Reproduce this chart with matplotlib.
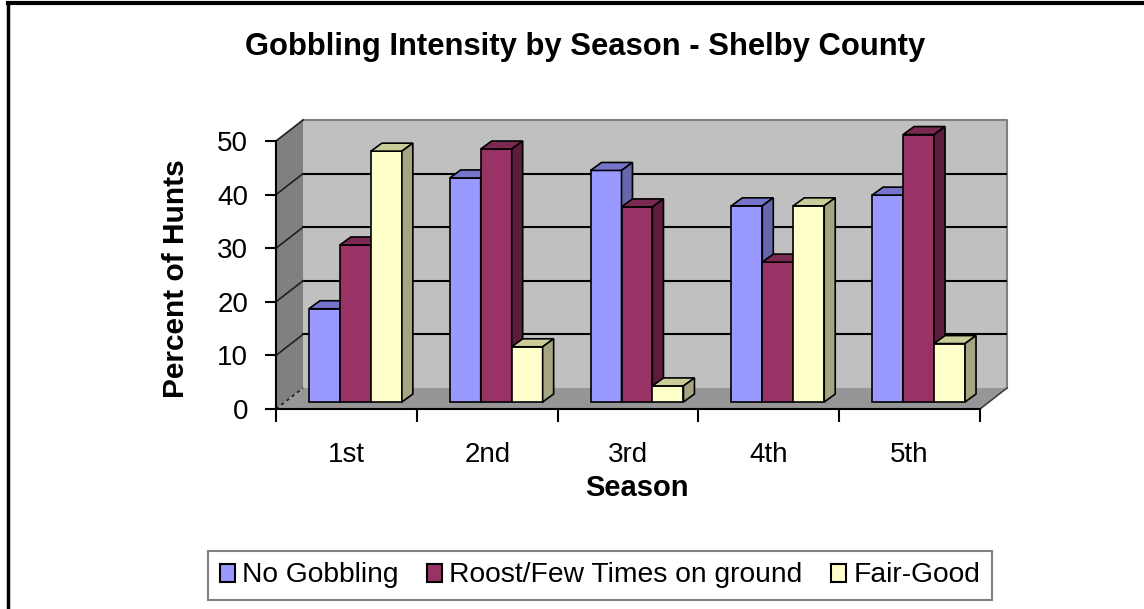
import numpy as np
import matplotlib
matplotlib.use("Agg")
import matplotlib.pyplot as plt
from matplotlib.patches import Polygon, Patch
from matplotlib.lines import Line2D

plt.rcParams['font.family'] = ['Liberation Sans', 'DejaVu Sans']

seasons = ["1st", "2nd", "3rd", "4th", "5th"]
series_names = ["No Gobbling", "Roost/Few Times on ground", "Fair-Good"]
no_gobbling = [17.4, 41.8, 43.2, 36.6, 38.6]
roost_few = [29.3, 47.2, 36.4, 26.1, 49.9]
fair_good = [46.8, 10.3, 3.0, 36.6, 10.9]
y_ticks = [0, 10, 20, 30, 40, 50]

front_col = ["#9999FF", "#993366", "#FFFFCC"]
top_col = ["#7575CC", "#7A2952", "#CCCC99"]
side_col = ["#6666AA", "#5E1C3D", "#A5A583"]

W, H = 1144, 609
DX, DY = 0.192, 3.92      # depth of the walls, in data units
BW = 0.22                 # bar width
BDX, BDY = 0.078, 1.49    # depth of a bar
OX, OY = DX / 3, DY / 3   # bars sit a third of the way back

fig = plt.figure(figsize=(W / 100, H / 100), dpi=100)
ax = fig.add_axes([276 / W, 1 - 409 / H, 731 / W, 289 / H])
ax.set_xlim(0, 5 + DX)
ax.set_ylim(0, 50 + DY)
ax.patch.set_visible(False)

# walls and floor
ax.add_patch(Polygon([(0, 0), (DX, DY), (DX, 50 + DY), (0, 50)], fc="#808080", ec="none", zorder=0, clip_on=False))
ax.add_patch(Polygon([(0, 0), (5, 0), (5 + DX, DY), (DX, DY)], fc="#969696", ec="none", zorder=0, clip_on=False))
ax.add_patch(Polygon([(DX, DY), (5 + DX, DY), (5 + DX, 50 + DY), (DX, 50 + DY)], fc="#C0C0C0", ec="none", zorder=0, clip_on=False))
ax.plot([DX, 5 + DX, 5 + DX], [50 + DY, 50 + DY, DY], color="#808080", lw=1.5, zorder=1, clip_on=False)
ax.plot([5, 5 + DX], [0, DY], color="#404040", lw=1.2, zorder=1, clip_on=False)

# gridlines on back and side wall
for v in y_ticks[1:-1]:
    ax.plot([DX, 5 + DX], [v + DY, v + DY], color="black", lw=1.5, zorder=1)
for v in y_ticks[1:]:
    ax.plot([0, DX], [v, v + DY], color="#202020", lw=1.2, zorder=1, clip_on=False)
ax.plot([0, DX], [0, DY], color="#202020", lw=1.2, ls=(0, (2, 2)), zorder=1)

# bars
series = [no_gobbling, roost_few, fair_good]
for j in range(len(seasons)):
    for i, vals in enumerate(series):
        v = vals[j]
        x0 = j + 0.17 + i * BW + OX
        y0 = OY
        ax.bar(x0, v, width=BW, bottom=y0, align="edge", color=front_col[i], edgecolor="black", lw=1.2, zorder=3 + j * 3 + i)
        ax.add_patch(Polygon([(x0, y0 + v), (x0 + BW, y0 + v), (x0 + BW + BDX, y0 + v + BDY), (x0 + BDX, y0 + v + BDY)],
                             fc=top_col[i], ec="black", lw=1.2, zorder=3 + j * 3 + i, clip_on=False))
        ax.add_patch(Polygon([(x0 + BW, y0), (x0 + BW + BDX, y0 + BDY), (x0 + BW + BDX, y0 + v + BDY), (x0 + BW, y0 + v)],
                             fc=side_col[i], ec="black", lw=1.2, zorder=3 + j * 3 + i, clip_on=False))

ax.spines[['top', 'right']].set_visible(False)
ax.spines['left'].set_bounds(0, 50)
ax.spines['bottom'].set_bounds(0, 5)
ax.spines['left'].set_linewidth(1.5)
ax.spines['bottom'].set_linewidth(1.5)

ax.set_yticks(y_ticks)
ax.tick_params(axis='y', direction='out', length=8, width=1.5, pad=12, labelsize=20)
ax.set_xticks(range(6))
ax.set_xticklabels([])
ax.set_xticks(np.arange(5) + 0.5, minor=True)
ax.set_xticklabels(seasons, minor=True)
ax.tick_params(axis='x', which='major', direction='out', length=9, width=1.5)
ax.tick_params(axis='x', which='minor', length=0, pad=24, labelsize=20)

fig.text(585 / W, 1 - 47 / H, "Gobbling Intensity by Season - Shelby County", ha="center", va="center",
         fontsize=22.3, fontweight="bold")
fig.text(176 / W, 1 - 279 / H, "Percent of Hunts", ha="center", va="center", rotation=90,
         fontsize=21.5, fontweight="bold")
fig.text(637 / W, 1 - 488 / H, "Season", ha="center", va="center", fontsize=21, fontweight="bold")

handles = [Patch(facecolor=c, edgecolor="black", lw=1.5) for c in front_col]
leg = fig.legend(handles, series_names, loc="center", bbox_to_anchor=(600 / W, 1 - 575.5 / H), ncol=3,
                 fontsize=20.3, handlelength=0.55, handleheight=0.6, handletextpad=0.25, columnspacing=1.0,
                 fancybox=False, framealpha=1, edgecolor="#808080", borderpad=0.4)
leg.get_frame().set_linewidth(1.5)

# outer frame of the chart
fig.add_artist(Line2D([8 / W, 8 / W], [0, 1 - 3 / H], transform=fig.transFigure, color="black", lw=2.5))
fig.add_artist(Line2D([8 / W, 1], [1 - 3 / H, 1 - 3 / H], transform=fig.transFigure, color="black", lw=3))

fig.savefig("out.png", dpi=100)
